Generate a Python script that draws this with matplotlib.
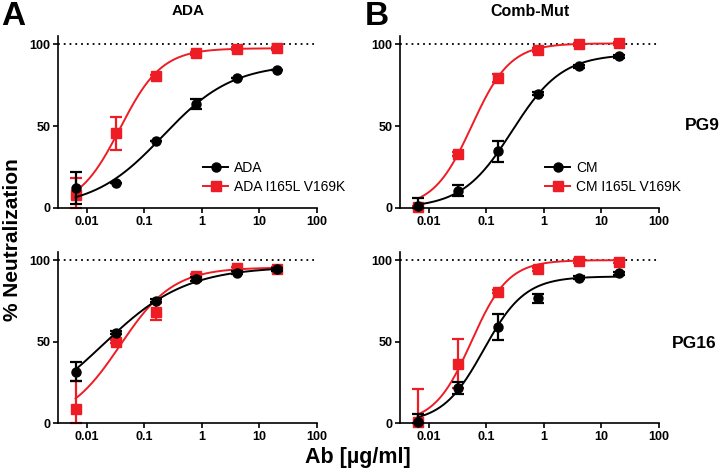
import numpy as np
import matplotlib
matplotlib.use("Agg")
import matplotlib.pyplot as plt
from matplotlib.lines import Line2D

plt.rcParams['font.family'] = ['Liberation Sans', 'DejaVu Sans']

# ---------------- data ----------------
conc = [0.0064, 0.032, 0.16, 0.8, 4, 20]

# PG9 / ADA
ada_pg9 = [12.2, 15.2, 40.7, 63.6, 79.3, 84.3]
ada_pg9_err = [10, 0, 0, 3, 0, 0]
adamut_pg9 = [8.1, 45.7, 80.3, 94.5, 97.2, 97.4]
adamut_pg9_err = [10, 10, 1, 1, 1, 1]

# PG9 / Comb-Mut
cm_pg9 = [1.0, 10.6, 34.6, 69.7, 86.4, 92.5]
cm_pg9_err = [5, 3.5, 6.5, 1, 1, 1]
cmmut_pg9 = [0.6, 32.9, 79.3, 96.5, 100.0, 100.6]
cmmut_pg9_err = [0.5, 1, 2.5, 1, 1, 1]

# PG16 / ADA
ada_pg16 = [31.6, 55.5, 75.1, 88.4, 92.4, 94.3]
ada_pg16_err = [5.6, 1, 1, 1, 1, 1]
adamut_pg16 = [8.8, 50.0, 68.4, 90.4, 94.9, 94.5]
adamut_pg16_err = [17, 1, 5, 1, 1, 1]

# PG16 / Comb-Mut
cm_pg16 = [0.4, 21.4, 59.2, 76.5, 89.2, 91.8]
cm_pg16_err = [5, 3.5, 8, 3, 1, 1]
cmmut_pg16 = [0.4, 36.3, 80.6, 94.3, 99.4, 99.0]
cmmut_pg16_err = [20.4, 15, 1, 1, 1, 1]

# 4-parameter logistic fit parameters: bottom, top, EC50, hill
fit_ada_pg9 = [0, 88, 0.21, 0.72]
fit_adamut_pg9 = [0, 97.5, 0.038, 1.2]
fit_cm_pg9 = [0, 94, 0.28, 1.0]
fit_cmmut_pg9 = [0, 100.5, 0.056, 1.3]
fit_ada_pg16 = [0, 96, 0.019, 0.6]
fit_adamut_pg16 = [0, 95.5, 0.038, 0.94]
fit_cm_pg16 = [0, 90, 0.09, 1.21]
fit_cmmut_pg16 = [0, 100, 0.055, 1.35]

xticks = [0.01, 0.1, 1, 10, 100]
xticklabels = ['0.01', '0.1', '1', '10', '100']
yticks = [0, 50, 100]
yticklabels = ['0', '50', '100']

labels_ada = ['ADA', 'ADA I165L V169K']
labels_cm = ['CM', 'CM I165L V169K']

BLACK = '#000000'
RED = '#ee1c24'


def four_pl(x, p):
    b, t, ec, h = p
    return b + (t - b) / (1 + (ec / x) ** h)


def asym_err(vals, errs):
    v = np.asarray(vals, float)
    e = np.asarray(errs, float)
    return np.vstack([np.minimum(e, v), e])


W, H = 720, 474
fig = plt.figure(figsize=(W / 100, H / 100), dpi=100)


def make_ax(left_px, bottom_px, width_px, height_px):
    return fig.add_axes([left_px / W, 1 - bottom_px / H, width_px / W, height_px / H])


ax_tl = make_ax(58, 208, 259, 172)
ax_tr = make_ax(400, 208, 259, 172)
ax_bl = make_ax(58, 423, 259, 171)
ax_br = make_ax(400, 423, 259, 171)

panels = [
    (ax_tl, ada_pg9, ada_pg9_err, adamut_pg9, adamut_pg9_err, fit_ada_pg9, fit_adamut_pg9, labels_ada),
    (ax_tr, cm_pg9, cm_pg9_err, cmmut_pg9, cmmut_pg9_err, fit_cm_pg9, fit_cmmut_pg9, labels_cm),
    (ax_bl, ada_pg16, ada_pg16_err, adamut_pg16, adamut_pg16_err, fit_ada_pg16, fit_adamut_pg16, None),
    (ax_br, cm_pg16, cm_pg16_err, cmmut_pg16, cmmut_pg16_err, fit_cm_pg16, fit_cmmut_pg16, None),
]

xx = np.logspace(np.log10(conc[0]), np.log10(conc[-1]), 300)

for ax, yb, eb, yr, er, pb, pr, labs in panels:
    ax.set_xscale('log')
    ax.set_xlim(10 ** -2.5, 100)
    ax.set_ylim(0, 105)
    ax.axhline(100, color='black', ls=(0, (1, 2.2)), lw=1.3, zorder=1)
    # red series
    ax.plot(xx, four_pl(xx, pr), color=RED, lw=1.4, zorder=2)
    ax.errorbar(conc, yr, yerr=asym_err(yr, er), fmt='s', color=RED, ms=6.5,
                elinewidth=1.6, capsize=4, capthick=1.6, zorder=3, clip_on=False)
    # black series
    ax.plot(xx, four_pl(xx, pb), color=BLACK, lw=1.4, zorder=4)
    ax.errorbar(conc, yb, yerr=asym_err(yb, eb), fmt='o', color=BLACK, ms=6.5,
                elinewidth=1.6, capsize=4, capthick=1.6, zorder=5, clip_on=False)

    ax.set_xticks(xticks)
    ax.set_xticklabels(xticklabels)
    ax.minorticks_off()
    ax.set_yticks(yticks)
    ax.set_yticklabels(yticklabels)
    for s in ['top', 'right']:
        ax.spines[s].set_visible(False)
    for s in ['left', 'bottom']:
        ax.spines[s].set_linewidth(1.2)
        ax.spines[s].set_zorder(6)
    ax.tick_params(axis='both', direction='out', length=3.5, width=1.2, pad=2,
                   labelsize=9)
    for lab in ax.get_xticklabels() + ax.get_yticklabels():
        lab.set_fontweight('bold')

    if labs is not None:
        handles = [
            Line2D([], [], color=BLACK, marker='o', ms=6.5, lw=1.4),
            Line2D([], [], color=RED, marker='s', ms=6.5, lw=1.4),
        ]
        ax.legend(handles, labs, loc='upper left', bbox_to_anchor=(0.56, 0.275),
                  frameon=False, fontsize=10, handlelength=1.8, handletextpad=0.45,
                  borderpad=0, borderaxespad=0, labelspacing=0.38)

# panel letters and titles
fig.text(1 / W, 1 - 1 / H, 'A', fontsize=24, fontweight='bold', ha='left', va='top')
fig.text(365 / W, 1 - 1 / H, 'B', fontsize=24, fontweight='bold', ha='left', va='top')
fig.text(188 / W, 1 - 11 / H, 'ADA', fontsize=11, fontweight='bold', ha='center', va='center')
fig.text(530 / W, 1 - 11 / H, 'Comb-Mut', fontsize=11.5, fontweight='bold', ha='center', va='center')
fig.text(685 / W, 1 - 126 / H, 'PG9', fontsize=12.5, fontweight='bold', ha='left', va='center')
fig.text(672 / W, 1 - 343 / H, 'PG16', fontsize=12.5, fontweight='bold', ha='left', va='center')
fig.text(13 / W, 1 - 240 / H, '% Neutralization', fontsize=15, fontweight='bold',
         ha='center', va='center', rotation=90)
fig.text(358 / W, 1 - 458 / H, 'Ab [µg/ml]', fontsize=15.5, fontweight='bold',
         ha='center', va='center')

fig.savefig('out.png', dpi=100)
